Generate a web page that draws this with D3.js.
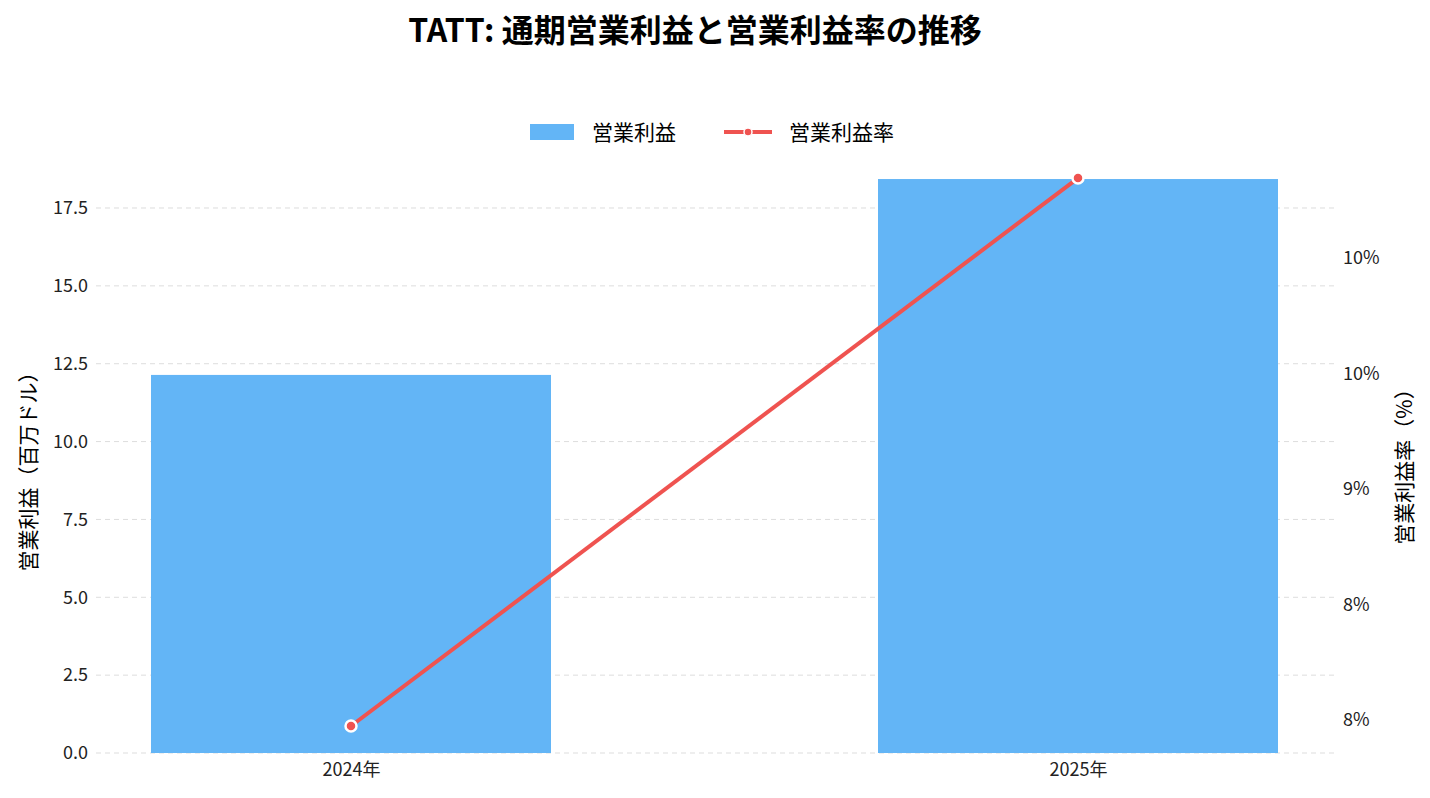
<!DOCTYPE html>
<html><head><meta charset="utf-8">
<script src="https://cdn.jsdelivr.net/npm/d3@7"></script>
<style>body{margin:0;background:#fff;font-family:"Noto Sans CJK JP","Noto Sans",sans-serif;}</style>
</head><body><svg id="c" width="1430" height="798"></svg>
<script>
const categories = ["2024年","2025年"];
const operatingProfit = [12.14, 18.43];
const operatingMargin = [7.974, 10.346];
const leftTicks = [0,2.5,5,7.5,10,12.5,15,17.5];
const rightTicks = [8.0,8.5,9.0,9.5,10.0];

const svg = d3.select("#c");
const F = '"Noto Sans CJK JP","Noto Sans",sans-serif';
const L=96, R=1334, T=170, B=753;
const x = d3.scalePoint().domain(categories).range([351,1078]);
const y = d3.scaleLinear().domain([0,18.72]).range([B,T]);
const y2 = d3.scaleLinear().domain([7.857,10.381]).range([B,T]);
const bw = 400;

svg.append("text").attr("x",695).attr("y",42).attr("text-anchor","middle")
  .attr("font-size",32).attr("font-weight","bold").attr("font-family",F).text("TATT: 通期営業利益と営業利益率の推移");

// grid
svg.append("g").selectAll("line").data(leftTicks).join("line")
  .attr("x1",L).attr("x2",R).attr("y1",d=>y(d)).attr("y2",d=>y(d))
  .attr("stroke","#ddd").attr("stroke-dasharray","5,4").attr("stroke-width",1);

svg.append("g").selectAll("rect").data(categories).join("rect")
  .attr("x",d=>x(d)-bw/2).attr("width",bw)
  .attr("y",(d,i)=>y(operatingProfit[i])).attr("height",(d,i)=>B-y(operatingProfit[i]))
  .attr("fill","#63b5f6");

const ax = svg.append("g").attr("transform",`translate(${L},0)`)
  .call(d3.axisLeft(y).tickValues(leftTicks).tickFormat(d3.format(".1f")).tickSize(0).tickPadding(8));
ax.select(".domain").remove();
ax.selectAll("text").attr("font-size",18).attr("font-family",F).attr("fill","#222");

const ax2 = svg.append("g").attr("transform",`translate(${R},0)`)
  .call(d3.axisRight(y2).tickValues(rightTicks).tickFormat(d=>{const r=Math.abs(d%1-0.5)<1e-9?(Math.floor(d)%2===0?Math.floor(d):Math.ceil(d)):Math.round(d);return r+"%";}).tickSize(0).tickPadding(9));
ax2.select(".domain").remove();
ax2.selectAll("text").attr("font-size",18).attr("font-family",F).attr("fill","#222");

const axb = svg.append("g").attr("transform",`translate(0,${B})`)
  .call(d3.axisBottom(x).tickSize(0).tickPadding(10));
axb.select(".domain").remove();
axb.selectAll("text").attr("font-size",18).attr("font-family",F).attr("fill","#222");

svg.append("text").attr("transform",`translate(36,${(T+B)/2+5}) rotate(-90)`).attr("text-anchor","middle")
  .attr("font-size",21).attr("font-family",F).text("営業利益（百万ドル）");
svg.append("text").attr("transform",`translate(1412,${(T+B)/2}) rotate(-90)`).attr("text-anchor","middle")
  .attr("font-size",21).attr("font-family",F).text("営業利益率（%）");

const line = d3.line().x((d,i)=>x(categories[i])).y(d=>y2(d));
svg.append("path").datum(operatingMargin).attr("d",line).attr("fill","none")
  .attr("stroke","#ef5350").attr("stroke-width",4);
svg.append("g").selectAll("circle").data(operatingMargin).join("circle")
  .attr("cx",(d,i)=>x(categories[i])).attr("cy",d=>y2(d)).attr("r",5.5)
  .attr("fill","#ef5350").attr("stroke","#fff").attr("stroke-width",2.5);

// legend
svg.append("rect").attr("x",530).attr("y",124).attr("width",44).attr("height",16).attr("fill","#63b5f6");
svg.append("text").attr("x",592).attr("y",140).attr("font-size",21).attr("font-family",F).text("営業利益");
svg.append("line").attr("x1",724).attr("x2",772).attr("y1",132).attr("y2",132).attr("stroke","#ef5350").attr("stroke-width",4);
svg.append("circle").attr("cx",748).attr("cy",132).attr("r",4).attr("fill","#ef5350").attr("stroke","#fff").attr("stroke-width",1.5);
svg.append("text").attr("x",789).attr("y",140).attr("font-size",21).attr("font-family",F).text("営業利益率");
</script></body></html>
